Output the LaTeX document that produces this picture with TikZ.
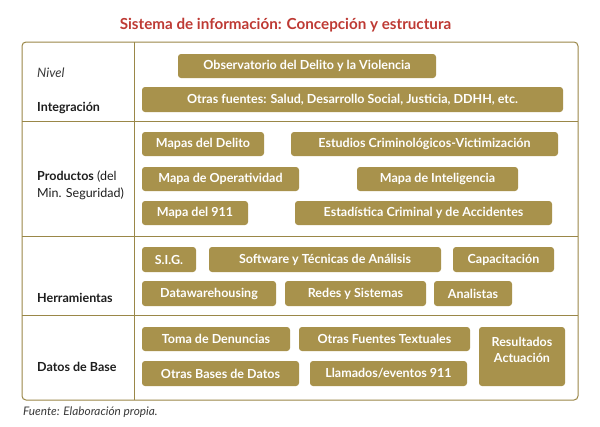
\documentclass[tikz,border=0pt]{standalone}
\usepackage{fontspec}
\setmainfont{Lato}
\newfontfamily\bfont{Lato}
\definecolor{gold}{HTML}{A8924C}
\definecolor{framec}{HTML}{9A8748}
\definecolor{titred}{HTML}{BE3A34}
\definecolor{labc}{HTML}{1E1E1E}
\definecolor{itc}{HTML}{3A3A3A}
\tikzset{
  gbox/.style={fill=gold, rounded corners=3pt, text=white, inner sep=0pt,
    font=\bfont\bfseries\fontsize{12.5}{16}\selectfont},
  gtext/.style={text=white, inner sep=0pt, align=center,
    font=\bfont\bfseries\fontsize{12.5}{16}\selectfont},
  lab/.style={text=labc, inner sep=0pt, anchor=base west,
    font=\bfont\fontsize{12.5}{14}\selectfont},
  itlab/.style={text=itc, inner sep=0pt, anchor=base west,
    font=\bfont\itshape\fontsize{11.8}{13}\selectfont},
  rule/.style={draw=framec, line width=1pt},
}
\begin{document}
\begin{tikzpicture}[x=1pt,y=-1pt]
\useasboundingbox[fill=white] (0,0) rectangle (600,426);
% title
\node[text=titred, inner sep=0pt, anchor=base, font=\bfont\bfseries\fontsize{15.2}{18}\selectfont] (title) at (285.5,29) {Sistema de información: Concepción y estructura};
% frame
\draw[rule, rounded corners=4pt] (22,42) rectangle (578,400);
\draw[rule] (134,42) -- (134,400);
\draw[rule] (22,121) -- (578,121);
\draw[rule] (22,236) -- (578,236);
\draw[rule] (22,315) -- (578,315);
% left labels
\node[itlab, font=\bfont\itshape\fontsize{13}{15}\selectfont] (nivel) at (37,77) {Nivel};
\node[lab] (integ) at (37,111) {\bfseries Integración};
\node[lab] (prod1) at (37,180) {{\bfseries Productos} (del};
\node[lab] (prod2) at (37,197) {Min. Seguridad)};
\node[lab] (herr) at (37,302) {\bfseries Herramientas};
\node[lab] (datos) at (37,371) {\bfseries Datos de Base};
% Integracion row
\node[gbox, minimum width=258pt, minimum height=24pt] (obs) at (307,66) {Observatorio del Delito y la Violencia};
\node[gbox, minimum width=421pt, minimum height=25pt] (otras) at (352.5,99.5) {Otras fuentes: Salud, Desarrollo Social, Justicia, DDHH, etc.};
% Productos row
\node[gbox, minimum width=122pt, minimum height=24pt] (mapas) at (203,144) {Mapas del Delito};
\node[gbox, minimum width=267pt, minimum height=24pt] (estud) at (424.5,144) {Estudios Criminológicos-Victimización};
\node[gbox, minimum width=157pt, minimum height=24pt] (operat) at (220.5,179) {Mapa de Operatividad};
\node[gbox, minimum width=161pt, minimum height=24pt] (intel) at (437.5,179) {Mapa de Inteligencia};
\node[gbox, minimum width=106pt, minimum height=24pt] (m911) at (195,213) {Mapa del 911};
\node[gbox, minimum width=257pt, minimum height=24pt] (estad) at (423.5,213) {Estadística Criminal y de Accidentes};
% Herramientas row
\node[gbox, minimum width=54pt, minimum height=25pt] (sig) at (169,259.5) {S.I.G.};
\node[gbox, minimum width=232pt, minimum height=25pt] (soft) at (325,259.5) {Software y Técnicas de Análisis};
\node[gbox, minimum width=101pt, minimum height=25pt] (capac) at (503.5,259.5) {Capacitación};
\node[gbox, minimum width=134pt, minimum height=25pt] (dataw) at (209,293.5) {Datawarehousing};
\node[gbox, minimum width=141pt, minimum height=25pt] (redes) at (355.5,293.5) {Redes y Sistemas};
\node[gbox, minimum width=78pt, minimum height=25pt] (analis) at (473,293.5) {Analistas};
% Datos de Base row
\node[gbox, minimum width=148pt, minimum height=24pt] (toma) at (216,339) {Toma de Denuncias};
\node[gbox, minimum width=171pt, minimum height=24pt] (oft) at (384.5,339) {Otras Fuentes Textuales};
\node[gbox, minimum width=86pt, minimum height=59pt] (resul) at (522,356.5) {};
\node[gtext, anchor=north] (resultxt) at (522,337) {Resultados\\Actuación};
\node[gbox, minimum width=157pt, minimum height=25pt] (obases) at (220.5,373.5) {Otras Bases de Datos};
\node[gbox, minimum width=157pt, minimum height=25pt] (llam) at (388.5,373.5) {Llamados/eventos 911};
% source
\node[itlab] (fuente) at (23,415) {Fuente: Elaboración propia.};
\end{tikzpicture}
\end{document}
